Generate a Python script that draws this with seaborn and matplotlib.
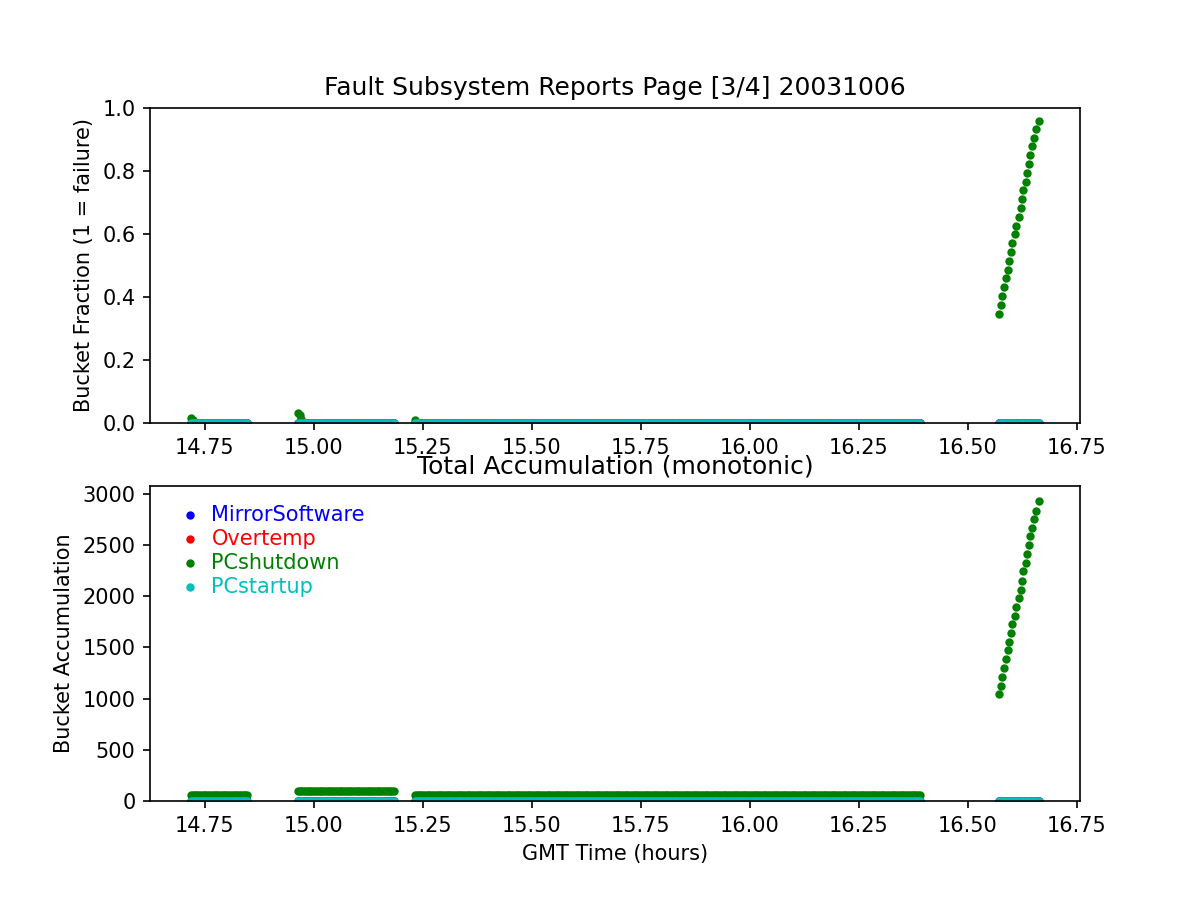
import numpy as np
import pandas as pd
import seaborn as sns
import matplotlib
matplotlib.use('Agg')
import matplotlib.pyplot as plt

# fault buckets, plotting order and colours
faults = ['MirrorSoftware', 'Overtemp', 'PCshutdown', 'PCstartup']
colors = ['b', 'r', 'g', 'c']

# continuous sampling segments (GMT hours), one sample every 15 s
seg_start = [14.718, 14.963, 15.232]
seg_end = [14.849, 15.186, 16.391]
sample_step = 15.0 / 3600.0

# PCshutdown fraction at the head of each segment (rest of segment is 0)
shutdown_head_frac = [[0.016, 0.008], [0.032, 0.024, 0.012], [0.011]]
# PCshutdown accumulation level during each segment
shutdown_seg_accum = [59, 95, 59]

# last segment: PCshutdown ramps up
last_time = [16.571, 16.576, 16.578, 16.583, 16.588, 16.592, 16.596, 16.599,
             16.603, 16.608, 16.612, 16.617, 16.622, 16.624, 16.628, 16.633,
             16.637, 16.642, 16.644, 16.649, 16.653, 16.658, 16.663]
last_frac = [0.345, 0.375, 0.403, 0.431, 0.459, 0.486, 0.513, 0.542, 0.570,
             0.599, 0.625, 0.654, 0.681, 0.710, 0.739, 0.765, 0.793, 0.821,
             0.850, 0.878, 0.906, 0.932, 0.960]
last_accum = [1046, 1127, 1216, 1301, 1389, 1471, 1556, 1644, 1725, 1810,
              1899, 1987, 2066, 2154, 2245, 2330, 2412, 2497, 2585, 2670,
              2752, 2836, 2931]

rows = []
for i in range(len(seg_start)):
    t = np.arange(seg_start[i], seg_end[i] + 1e-9, sample_step)
    for j, tt in enumerate(t):
        for f in faults:
            frac, acc = 0.0, 0.0
            if f == 'PCshutdown':
                head = shutdown_head_frac[i]
                frac = head[j] if j < len(head) else 0.0
                acc = shutdown_seg_accum[i]
            rows.append((f, tt, frac, acc))
for j, tt in enumerate(last_time):
    for f in faults:
        if f == 'PCshutdown':
            rows.append((f, tt, last_frac[j], last_accum[j]))
        else:
            rows.append((f, tt, 0.0, 0.0))
df = pd.DataFrame(rows, columns=['fault', 'time', 'fraction', 'accum'])

fig, (ax1, ax2) = plt.subplots(2, 1, figsize=(8, 6), dpi=150)

for f, c in zip(faults, colors):
    d = df[df['fault'] == f]
    sns.scatterplot(x=d['time'], y=d['fraction'], color=c, marker='o', s=9,
                    edgecolor=c, linewidth=1, ax=ax1)
    sns.scatterplot(x=d['time'], y=d['accum'], color=c, marker='o', s=9,
                    edgecolor=c, linewidth=1, label=f, ax=ax2)

ax1.set_ylim(0, 1.0)
ax1.set_title('Fault Subsystem Reports Page [3/4] 20031006')
ax1.set_ylabel('Bucket Fraction (1 = failure)')
ax1.set_xlabel('')

ax2.set_ylim(bottom=0)
ax2.set_title('Total Accumulation (monotonic)')
ax2.set_ylabel('Bucket Accumulation')
ax2.set_xlabel('GMT Time (hours)')

ax1.set_xlim(14.624, 16.758)
ax2.set_xlim(14.624, 16.758)

leg = ax2.legend(loc='upper left', frameon=False, scatterpoints=1,
                 handletextpad=0.05, labelspacing=0.19)
for txt, c in zip(leg.get_texts(), colors):
    txt.set_color(c)

fig.savefig('out.png', dpi=150)
